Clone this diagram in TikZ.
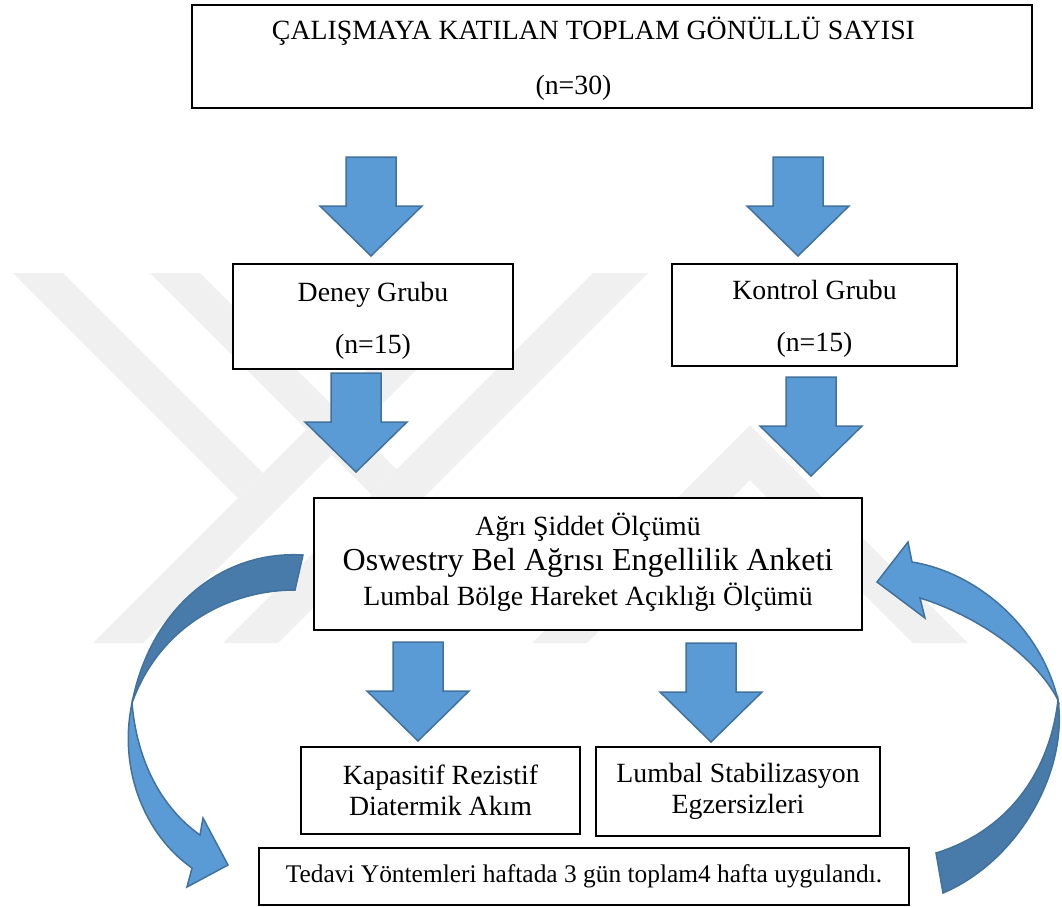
\documentclass[tikz,border=0pt]{standalone}
\usepackage{fontspec}
\setmainfont{Liberation Serif}
\usepackage{tikz}
\definecolor{officeblue}{RGB}{91,155,213}
\definecolor{officeline}{RGB}{65,113,156}
\definecolor{officeback}{RGB}{72,123,170}
\definecolor{markgray}{RGB}{240,240,240}

\begin{document}
\begin{tikzpicture}[x=1pt,y=-1pt]
    % Define styles
    \tikzset{
        box/.style={rectangle, draw=black, line width=1.2pt, fill=white, inner sep=0pt, align=center},
        txt/.style={font=\fontsize{27.8}{52}\selectfont},
        watermark/.style={fill=markgray},
        bluefill/.style={fill=officeblue, draw=officeline, line width=1.5pt},
        backfill/.style={fill=officeback, draw=officeline, line width=1.5pt},
        downblock/.pic={
            \path[bluefill] (-25,0) -- (25,0) -- (25,49) -- (51,49) -- (0,99)
                -- (-51,49) -- (-25,49) -- cycle;
        }
    }
    \useasboundingbox (0,0) rectangle (1062,906);

    % Watermark
    \fill[watermark] (13,273) -- (63,273) -- (263,473) -- (238,498) -- cycle;
    \fill[watermark] (463,273) -- (513,273) -- (143,643) -- (93,643) -- cycle;
    \fill[watermark] (150,273) -- (200,273) -- (396.5,469.5) -- (371.5,494.5) -- cycle;
    \fill[watermark] (593,273) -- (648,273) -- (278,643) -- (223,643) -- cycle;
    \fill[watermark] (532,643) -- (750,425) -- (968,643) -- (913,643)
        -- (750,480) -- (587,643) -- cycle;

    % Nodes
    \node[box, minimum width=840, minimum height=103] (total) at (612,56.5) {};
    \node[txt, anchor=base] (total_title) at (593.5,39) {ÇALIŞMAYA KATILAN TOPLAM GÖNÜLLÜ SAYISI};
    \node[txt, anchor=base] (total_n) at (573.5,94) {(n=30)};
    \node[box, txt, minimum width=280, minimum height=105] (deney) at (373,316.5)
        {\rule{0pt}{27pt}Deney Grubu\\(n=15)};
    \node[box, txt, minimum width=285, minimum height=102] (kontrol) at (814.5,315)
        {\rule{0pt}{27pt}Kontrol Grubu\\(n=15)};
    \node[box, font=\fontsize{27.8}{35}\selectfont, minimum width=548, minimum height=132] (olcum) at (588,564)
        {Ağrı Şiddet Ölçümü\\{\fontsize{32}{35}\selectfont Oswestry Bel Ağrısı Engellilik Anketi}\\Lumbal Bölge Hareket Açıklığı Ölçümü\rule[-9pt]{0pt}{0pt}};
    \node[box, font=\fontsize{27.8}{31.5}\selectfont, minimum width=279, minimum height=87] (kapasitif) at (440.5,790.5)
        {Kapasitif Rezistif\\Diatermik Akım};
    \node[box, font=\fontsize{27.8}{31.5}\selectfont, minimum width=284, minimum height=89] (stabilizasyon) at (738,791.5)
        {Lumbal Stabilizasyon\\Egzersizleri};
    \node[box, font=\fontsize{25.4}{30}\selectfont, minimum width=650, minimum height=57] (tedavi) at (584,876.5)
        {Tedavi Yöntemleri haftada 3 gün toplam4 hafta uygulandı.};

    % Block arrows
    \pic (arrow_deney) at (371,157) {downblock};
    \pic (arrow_kontrol) at (798,157) {downblock};
    \pic (arrow_olcum_left) at (356,373) {downblock};
    \pic (arrow_olcum_right) at (811,377) {downblock};
    \pic (arrow_kapasitif) at (418,642) {downblock};
    \pic (arrow_stabilizasyon) at (711,643) {downblock};

    % Curved arrows
    \draw[backfill] (303,555) .. controls (220,550) and (150,610) .. (132,703)
        .. controls (160,625) and (230,590) .. (295,590) -- cycle;
    \draw[bluefill] (132,703) .. controls (118,770) and (145,835) .. (192,868)
        -- (187,887) -- (228,865) -- (203,818) -- (200,835)
        .. controls (162,808) and (137,762) .. (132,703) -- cycle;
    \draw[bluefill] (877,582) -- (908,542) -- (912,562)
        .. controls (975,572) and (1040,625) .. (1058,700)
        .. controls (1035,655) and (975,615) .. (920,598) -- (925,618) -- cycle;
    \draw[backfill] (1058,700) .. controls (1068,770) and (1020,860) .. (943,893)
        -- (936,853) .. controls (1010,830) and (1050,770) .. (1058,700) -- cycle;
\end{tikzpicture}
\end{document}
